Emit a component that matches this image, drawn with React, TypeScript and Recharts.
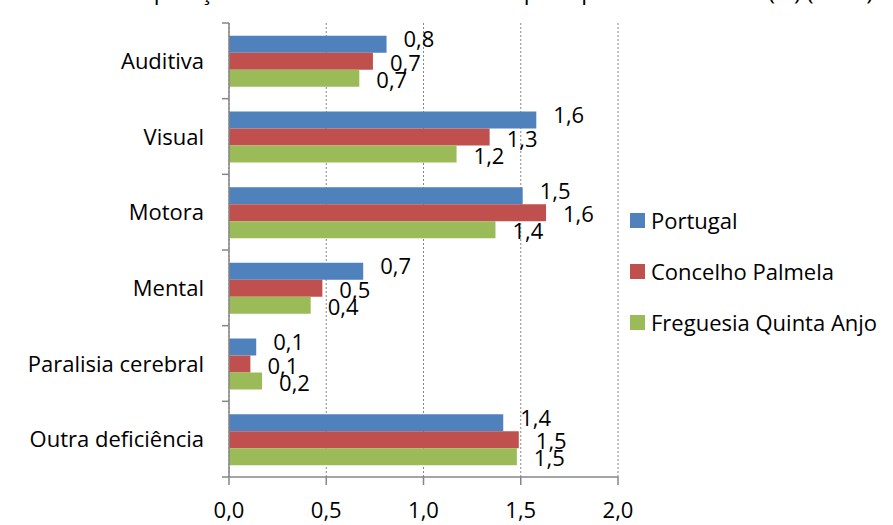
import React from "react";
import { BarChart, Bar, XAxis, YAxis, CartesianGrid, LabelList } from "recharts";

const categories = ["Auditiva", "Visual", "Motora", "Mental", "Paralisia cerebral", "Outra deficiência"];
const portugal = [0.81, 1.58, 1.51, 0.69, 0.14, 1.41];
const concelhoPalmela = [0.74, 1.34, 1.63, 0.48, 0.11, 1.49];
const freguesiaQuintaAnjo = [0.67, 1.17, 1.37, 0.42, 0.17, 1.48];
const xTicks = [0, 0.5, 1, 1.5, 2];

const series = [
  { key: "portugal", name: "Portugal", color: "#4F81BD", dy: -5 },
  { key: "concelho", name: "Concelho Palmela", color: "#C0504D", dy: 1.5 },
  { key: "freguesia", name: "Freguesia Quinta Anjo", color: "#9BBB59", dy: 1.5 },
];

const title = "Gráfico 9 – População residente com deficiência por tipo de deficiência (%) (2001)";

const data = categories.map((c, i) => ({
  name: c,
  portugal: portugal[i],
  concelho: concelhoPalmela[i],
  freguesia: freguesiaQuintaAnjo[i],
}));

const W = 893;
const H = 525;
const FONT = "'Open Sans', Lato, sans-serif";
const FS = 22;
const AXIS = "#868686";
const TOP = 23;
const BOTTOM_AXIS = 48;
const band = (H - TOP - BOTTOM_AXIS) / categories.length;

const fmt = (v: number) => v.toFixed(1).replace(".", ",");

// category labels sit between boundary ticks, Excel style
const CategoryTick = (props: any) => {
  const { x, y, payload, index } = props;
  return (
    <g>
      <line x1={x - 7} x2={x} y1={y - band / 2} y2={y - band / 2} stroke={AXIS} strokeWidth={1.5} />
      {index === categories.length - 1 && (
        <line x1={x - 7} x2={x} y1={y + band / 2} y2={y + band / 2} stroke={AXIS} strokeWidth={1.5} />
      )}
      <text x={x - 25} y={y + 8} textAnchor="end" fontFamily={FONT} fontSize={FS} fill="#000">
        {payload.value}
      </text>
    </g>
  );
};

const ValueTick = (props: any) => {
  const { x, y, payload } = props;
  return (
    <text x={x} y={y + 31} textAnchor="middle" fontFamily={FONT} fontSize={FS} fill="#000">
      {fmt(payload.value)}
    </text>
  );
};

const makeLabel = (dy: number) => (props: any) => {
  const { x, y, width, height, value } = props;
  return (
    <text x={x + width + 17} y={y + height / 2 + dy + 8} fontFamily={FONT} fontSize={FS} fill="#000">
      {fmt(value)}
    </text>
  );
};

export default function App() {
  return (
    <div style={{ position: "absolute", left: 0, top: 0, width: W, height: H, background: "#fff" }}>
      <BarChart
        width={W}
        height={H}
        data={data}
        layout="vertical"
        margin={{ top: TOP, right: 275, bottom: 0, left: 0 }}
        barCategoryGap="17%"
        barGap={0}
      >
        <CartesianGrid horizontal={false} stroke={AXIS} strokeDasharray="2 2" />
        <XAxis
          type="number"
          domain={[0, 2]}
          ticks={xTicks}
          height={BOTTOM_AXIS}
          stroke={AXIS}
          strokeWidth={1.5}
          tickSize={8}
          tick={<ValueTick />}
          interval={0}
        />
        <YAxis
          type="category"
          dataKey="name"
          width={229}
          stroke={AXIS}
          strokeWidth={1.5}
          tickLine={false}
          tickSize={0}
          tickMargin={0}
          tick={<CategoryTick />}
          interval={0}
        />
        {series.map((s) => (
          <Bar key={s.key} dataKey={s.key} name={s.name} fill={s.color} isAnimationActive={false}>
            <LabelList dataKey={s.key} content={makeLabel(s.dy)} />
          </Bar>
        ))}
      </BarChart>
      <svg width={W} height={H} style={{ position: "absolute", left: 0, top: 0, pointerEvents: "none" }}>
        <text x={6} y={0} fontFamily={FONT} fontSize={20} fill="#000" textLength={867} lengthAdjust="spacingAndGlyphs">
          {title}
        </text>
        {series.map((s, i) => (
          <g key={s.key}>
            <rect x={630} y={213 + i * 51} width={15} height={15} fill={s.color} />
            <text x={651} y={228.5 + i * 51} fontFamily={FONT} fontSize={FS} fill="#000">
              {s.name}
            </text>
          </g>
        ))}
      </svg>
    </div>
  );
}
